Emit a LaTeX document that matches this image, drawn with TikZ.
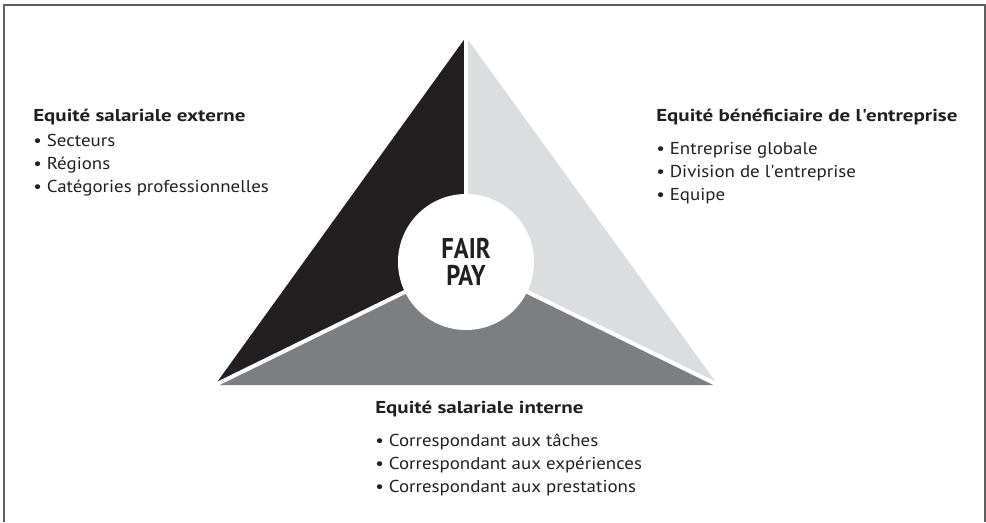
\documentclass[tikz,border=0pt]{standalone}
\usepackage{fontspec}
\setmainfont[FakeStretch=1.1, BoldFeatures={FakeStretch=1.22}]{PT Sans}
\newfontfamily\centrefont[FakeStretch=0.86]{PT Sans}
\usetikzlibrary{positioning}

\definecolor{ink}{HTML}{231F20}
\definecolor{midgrey}{HTML}{7D7E82}
\definecolor{lightgrey}{HTML}{DCDDDF}
\definecolor{framegrey}{HTML}{5F5F5F}

\tikzset{
    head/.style={font=\bfseries\fontsize{12.9}{17}\selectfont, text=ink, inner sep=0pt, anchor=base west},
    items/.style={font=\fontsize{12.9}{17.2}\selectfont, text=ink, align=left, inner sep=0pt},
    gap/.style={white, line width=3pt}
}

\begin{document}
\begin{tikzpicture}[x=0.75pt, y=0.75pt]
    \useasboundingbox (0,0) rectangle (986,522);
    % open frame
    \draw[framegrey, line width=1.5pt] (4,0) -- (4,517) -- (985,517) -- (985,0);

    % corners and centre of the triangle
    \coordinate (top) at (466,485);
    \coordinate (bl) at (215,137);
    \coordinate (br) at (718,137);
    \coordinate (mid) at (466,260);

    \fill[ink] (top) -- (mid) -- (bl) -- cycle;
    \fill[lightgrey] (top) -- (br) -- (mid) -- cycle;
    \fill[midgrey] (bl) -- (mid) -- (br) -- cycle;
    \draw[gap] (mid) -- (top);
    \draw[gap] (mid) -- (bl);
    \draw[gap] (mid) -- (br);
    \node[circle, fill=white, minimum size=136pt*0.75, inner sep=0pt, align=center,
          font=\centrefont\bfseries\fontsize{21.4}{20.5}\selectfont, text=ink] (fairpay) at (mid) {FAIR\\PAY};

    % external pay equity
    \node[head] (ext) at (33,400) {Equité salariale externe};
    \node[items, below=6.5pt of ext.south west, anchor=north west] (ext_list)
        {\textbullet\ Secteurs\\\textbullet\ Régions\\\textbullet\ Catégories professionnelles};

    % company performance equity
    \node[head] (perf) at (656,400) {Equité bénéficiaire de l\textquotesingle entreprise};
    \node[items, below=12.5pt of perf.south west, anchor=north west] (perf_list)
        {\textbullet\ Entreprise globale\\\textbullet\ Division de l\textquotesingle entreprise\\\textbullet\ Equipe};

    % internal pay equity
    \node[head] (int) at (375,109) {Equité salariale interne};
    \node[items, below=12.5pt of int.south west, anchor=north west] (int_list)
        {\textbullet\ Correspondant aux tâches\\\textbullet\ Correspondant aux expériences\\\textbullet\ Correspondant aux prestations};
\end{tikzpicture}
\end{document}
